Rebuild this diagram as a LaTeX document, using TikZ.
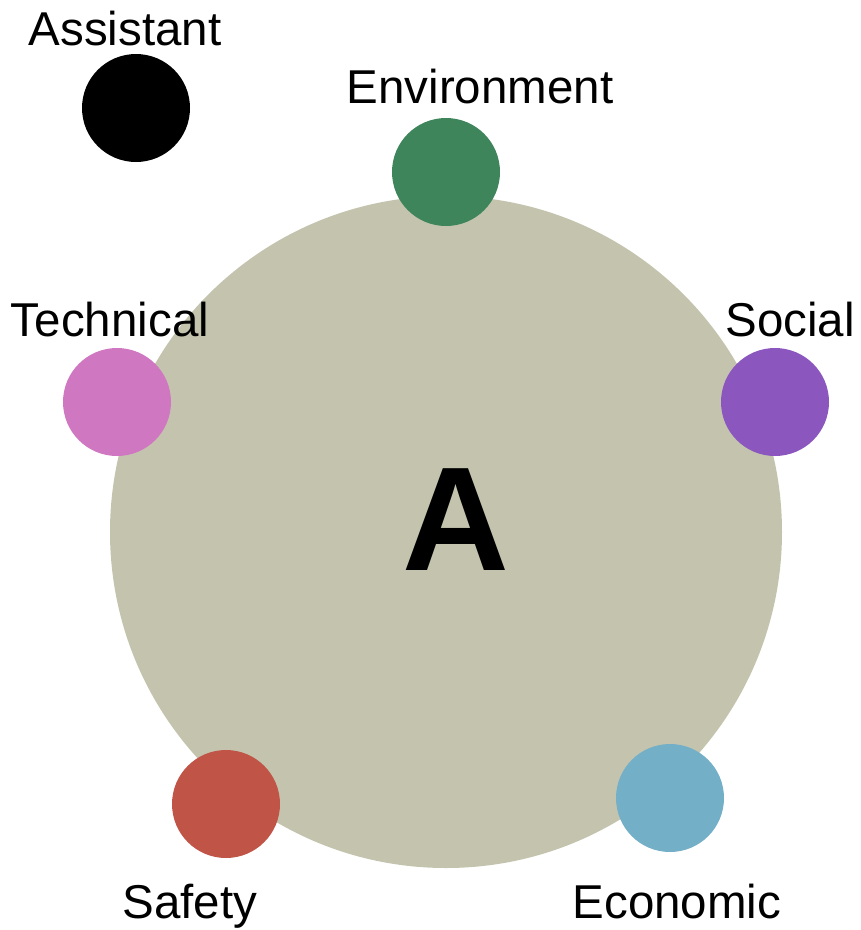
\documentclass[tikz,border=0pt]{standalone}
\usepackage{fontspec}
\setmainfont{Liberation Sans}
\definecolor{bigc}{HTML}{C4C4AE}
\definecolor{envc}{HTML}{3F855C}
\definecolor{socc}{HTML}{8B57BF}
\definecolor{tecc}{HTML}{CF77C1}
\definecolor{safc}{HTML}{C05447}
\definecolor{ecoc}{HTML}{74AFC8}
\begin{document}
\begin{tikzpicture}[x=1pt,y=-1pt,
  dot/.style={circle,inner sep=0pt,minimum size=108pt},
  lbl/.style={anchor=base,inner sep=0pt,font=\fontsize{47.5}{57}\selectfont}]
\useasboundingbox (0,0) rectangle (861,930);
\node[circle,fill=bigc,inner sep=0pt,minimum size=672pt] (big) at (446,532) {};
\node[font=\fontsize{148}{160}\selectfont\bfseries] (A) at (456,520) {A};
\node[dot,fill=black] (ast) at (136,108) {};
\node[dot,fill=envc] (env) at (446,172) {};
\node[dot,fill=socc] (soc) at (775,402) {};
\node[dot,fill=tecc] (tec) at (117,402) {};
\node[dot,fill=safc] (saf) at (226,804) {};
\node[dot,fill=ecoc] (eco) at (670,798) {};
\node[lbl] (astl) at (125,45) {Assistant};
\node[lbl] (envl) at (480,103) {Environment};
\node[lbl] (socl) at (790,336) {Social};
\node[lbl] (tecl) at (110,336) {Technical};
\node[lbl] (safl) at (190,918) {Safety};
\node[lbl] (ecol) at (677,918) {Economic};
\end{tikzpicture}
\end{document}
